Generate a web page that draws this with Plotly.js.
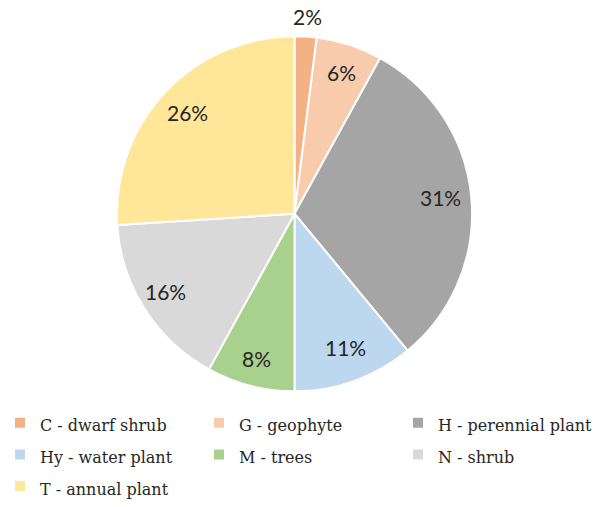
<!DOCTYPE html>
<html><head><meta charset="utf-8">
<script src="https://cdn.plot.ly/plotly-3.0.1.min.js"></script>
<style>body{margin:0;background:#fff}#chart{width:603px;height:507px}</style>
</head><body><div id="chart"></div>
<script>
const categories = ["C - dwarf shrub","G - geophyte","H - perennial plant","Hy - water plant","M - trees","N - shrub","T - annual plant"];
const values = [2, 6, 31, 11, 8, 16, 26];
const colors = ["#F4B183","#F8CBAD","#A5A5A5","#BDD7EE","#A9D18E","#D9D9D9","#FFE699"];
const labelRadius = [1.12, 0.84, 0.82, 0.83, 0.87, 0.86, 0.83];

const W = 603, H = 507;
const cx = 295, cy = 216, R = 178;
const domainCx = 294.5, domainCy = 218.5, Rdomain = 181.5;

const trace = {
  type: "pie",
  labels: categories.map(c => '<span style="font-size:16px">' + c + '</span>'),
  values: values,
  sort: false,
  direction: "clockwise",
  rotation: 0,
  marker: {colors: colors, line: {color: "#ffffff", width: 2}},
  textinfo: "none",
  hoverinfo: "none",
  domain: {x: [(domainCx - Rdomain) / W, (domainCx + Rdomain) / W],
           y: [1 - (domainCy + Rdomain) / H, 1 - (domainCy - Rdomain) / H]}
};

// percentage labels placed from the cumulative values
const total = values.reduce((a, b) => a + b, 0);
let cum = 0;
const annotations = values.map((v, i) => {
  const mid = (cum + v / 2) / total; cum += v;
  const th = 2 * Math.PI * mid;
  const r = R * labelRadius[i];
  const px = cx + r * Math.sin(th), py = cy - r * Math.cos(th);
  return {
    xref: "paper", yref: "paper", x: px / W, y: 1 - py / H,
    xanchor: "center", yanchor: "middle", showarrow: false,
    text: Math.round(100 * v / total) + "%",
    font: {family: "Lato, Open Sans, sans-serif", size: 21, color: "#262626"}
  };
});

const layout = {
  width: W, height: H,
  margin: {l: 0, r: 0, t: 0, b: 0},
  paper_bgcolor: "#ffffff",
  showlegend: true,
  annotations: annotations,
  legend: {
    orientation: "h", x: 0, xanchor: "left", y: 0.189, yanchor: "top",
    entrywidth: 154, entrywidthmode: "pixels",
    font: {family: "DejaVu Serif, Liberation Serif, serif", size: 22, color: "#262626"},
    tracegroupgap: 0
  }
};
Plotly.newPlot("chart", [trace], layout, {displayModeBar: false, staticPlot: true});
</script></body></html>
